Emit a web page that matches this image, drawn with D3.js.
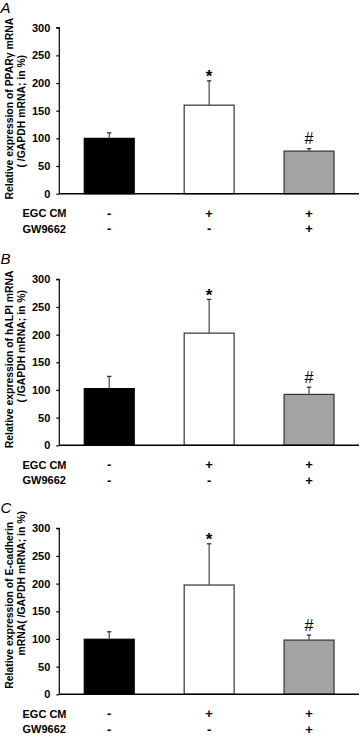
<!DOCTYPE html>
<html><head><meta charset="utf-8">
<script src="https://cdn.jsdelivr.net/npm/d3@7"></script>
<style>
html,body{margin:0;padding:0;background:#fff;}
svg{display:block;font-family:"Liberation Sans",Arial,sans-serif;}
</style></head>
<body>
<script>
const categories = ["Control", "EGC CM", "EGC CM + GW9662"];
const egcRow = ["-", "+", "+"];
const gwRow = ["-", "-", "+"];
const rowLabels = ["EGC CM", "GW9662"];
const yTicks = [0, 50, 100, 150, 200, 250, 300];
const barColors = ["#000000", "#ffffff", "#a3a3a3"];

const panelLetters = ["A", "B", "C"];
const titlesLine1 = ["Relative expression of PPAR\u03b3 mRNA", "Relative expression of hALPI mRNA", "Relative expression of E-cadherin"];
const titlesLine2 = ["( /GAPDH mRNA; in %)", "( /GAPDH mRNA; in %)", "mRNA( /GAPDH mRNA; in %)"];

const valuesA = [100, 160, 77];
const errorsA = [10, 44, 4.5];
const valuesB = [102.5, 202.7, 92];
const errorsB = [22, 61, 13];
const valuesC = [99.5, 197.5, 98];
const errorsC = [13.5, 74.5, 9];
const marks = ["", "*", "#"];

const panels = [
  {values: valuesA, errors: errorsA, top: 27.7, t1: -2, t2: 0.5},
  {values: valuesB, errors: errorsB, top: 279.3, t1: -3, t2: -16},
  {values: valuesC, errors: errorsC, top: 528.3, t1: -6, t2: -28}
];

const W = 360, H = 736;
const svg = d3.select("body").append("svg").attr("width", W).attr("height", H);

const left = 59.3, right = 359, plotH = 166;

panels.forEach((p, i) => {
  const g = svg.append("g");
  const top = p.top, bottom = top + plotH;
  const y = d3.scaleLinear().domain([0, 300]).range([bottom, top]);
  const x = d3.scaleBand().domain(categories).range([left, right]).paddingInner(0.5).paddingOuter(0.25);

  // panel letter
  g.append("text").attr("x", 0.5).attr("y", top - 15)
    .attr("font-size", 15).attr("font-style", "italic")
    .text(panelLetters[i]);

  // bars
  g.selectAll("rect.bar").data(p.values).join("rect")
    .attr("x", (d, j) => x(categories[j]))
    .attr("y", d => y(d))
    .attr("width", x.bandwidth())
    .attr("height", d => y(0) - y(d))
    .attr("fill", (d, j) => barColors[j])
    .attr("stroke", (d, j) => j === 0 ? "#000" : "#333")
    .attr("stroke-width", 1.2);

  // error bars
  p.values.forEach((v, j) => {
    const cx = x(categories[j]) + x.bandwidth() / 2;
    const yt = y(v + p.errors[j]);
    g.append("line").attr("x1", cx).attr("x2", cx).attr("y1", y(v)).attr("y2", yt)
      .attr("stroke", "#555").attr("stroke-width", 1.3);
    g.append("line").attr("x1", cx - 2.2).attr("x2", cx + 2.2).attr("y1", yt).attr("y2", yt)
      .attr("stroke", "#333").attr("stroke-width", 1.3);
    if (marks[j] === "*") {
      g.append("text").attr("x", cx).attr("y", yt + 1.5).attr("text-anchor", "middle")
        .attr("font-size", 17).attr("font-weight", "bold").text("*");
    } else if (marks[j] === "#") {
      g.append("text").attr("x", cx).attr("y", yt - 4.5).attr("text-anchor", "middle")
        .attr("font-size", 16).text("#");
    }
  });

  // y axis
  const ya = g.append("g").attr("transform", `translate(${left},0)`)
    .call(d3.axisLeft(y).tickValues(yTicks).tickSize(3).tickPadding(6));
  ya.select(".domain").attr("stroke", "#000").attr("stroke-width", 1.2).attr("d", `M-3,${top}H0V${bottom}`);
  ya.selectAll(".tick line").attr("stroke", "#000").attr("stroke-width", 1.2);
  ya.selectAll(".tick text").attr("font-size", 11).attr("font-weight", "bold")
    .attr("font-family", "Liberation Sans, Arial, sans-serif").attr("fill", "#000");

  // x axis baseline
  g.append("line").attr("x1", left).attr("x2", right).attr("y1", bottom).attr("y2", bottom)
    .attr("stroke", "#000").attr("stroke-width", 1.4);

  // y title
  const cy = (top + bottom) / 2;
  g.append("text").attr("transform", `translate(13,${cy + p.t1}) rotate(-90)`).attr("text-anchor", "middle")
    .attr("font-size", 10.4).attr("font-weight", "bold").text(titlesLine1[i]);
  g.append("text").attr("transform", `translate(25,${cy + p.t2}) rotate(-90)`).attr("text-anchor", "middle")
    .attr("font-size", 10.4).attr("font-weight", "bold").text(titlesLine2[i]);

  // condition rows
  [egcRow, gwRow].forEach((row, r) => {
    const ry = bottom + 19.5 + r * 15.5;
    g.append("text").attr("x", 22.5).attr("y", ry).attr("dy", "0.35em")
      .attr("font-size", 11).attr("font-weight", "bold").text(rowLabels[r]);
    g.selectAll(null).data(row).join("text")
      .attr("x", (d, j) => x(categories[j]) + x.bandwidth() / 2)
      .attr("y", ry).attr("dy", "0.35em").attr("text-anchor", "middle")
      .attr("font-size", 13).attr("font-weight", "bold").text(d => d);
  });
});
</script>
</body></html>
